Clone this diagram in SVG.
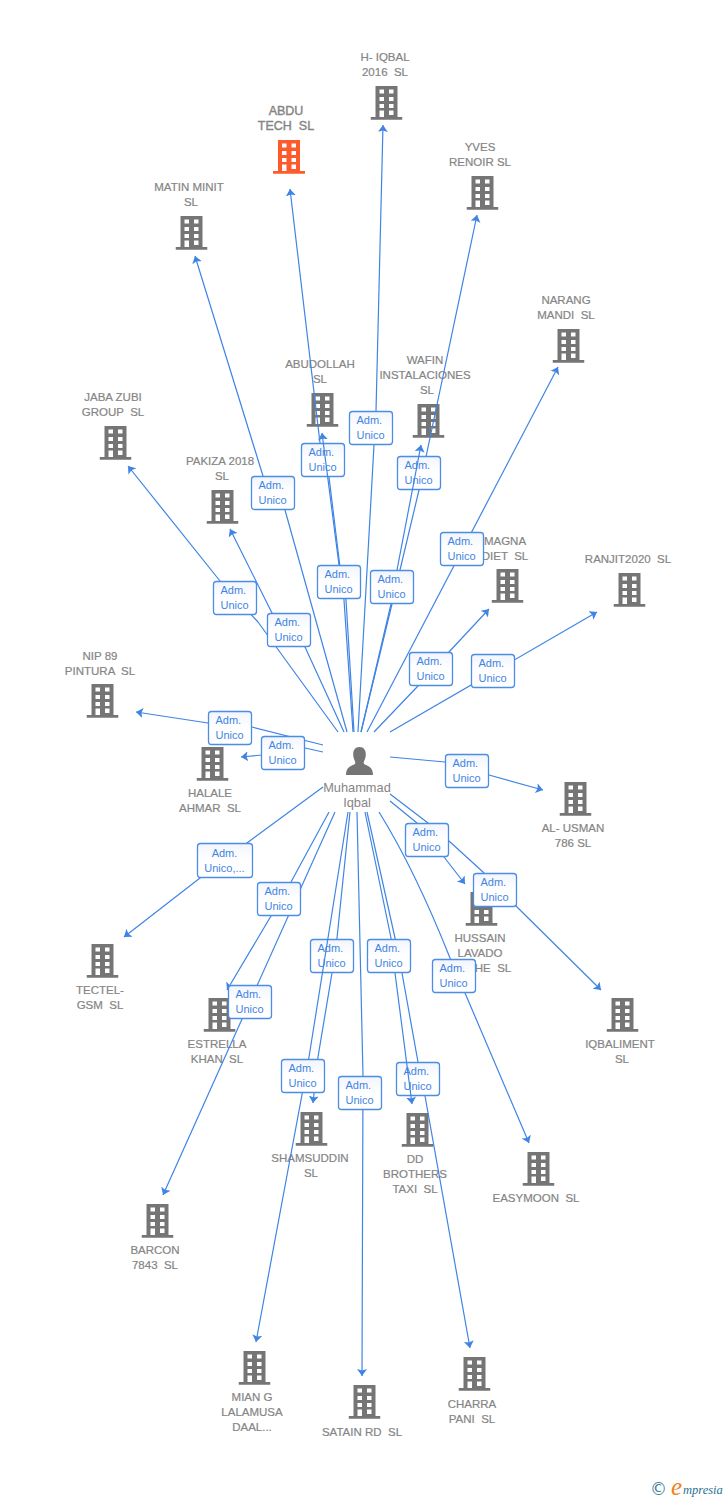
<svg xmlns="http://www.w3.org/2000/svg" width="728" height="1500" viewBox="0 0 728 1500">
<style>
.c{fill:none;stroke:#3f84e4;stroke-width:1.2;stroke-linejoin:round;marker-end:url(#a)}
.b{fill:url(#g);stroke:#4a8ce6;stroke-width:1.3}
.t{font:11px "Liberation Sans",Arial,sans-serif;fill:#3f84e4}
.n{font:11.5px "Liberation Sans",Arial,sans-serif;fill:#858585;text-anchor:middle;stroke:#858585;stroke-width:.2;white-space:pre}
.i{fill:#757575}
</style>
<defs>
<linearGradient id="g" x1="0" y1="0" x2="0" y2="1"><stop offset="0" stop-color="#f1f5fb"/><stop offset=".5" stop-color="#fff"/></linearGradient>
<marker id="a" markerUnits="userSpaceOnUse" markerWidth="10" markerHeight="12" refX="7" refY="5" orient="auto"><path d="M0 0L7 5L0 10L1.500 5Z" fill="#3f84e4"/></marker>
<symbol id="bld" viewBox="0 0 32 34" width="32" height="34"><path fill-rule="evenodd" d="M5 0H27V31H32V33.800H0V31H5ZM9 3.500V7.500H13.500V3.500ZM18.500 3.500V7.500H23V3.500ZM9 11V15H13.500V11ZM18.500 11V15H23V11ZM9 18V22H13.500V18ZM18.500 18V22H23V18ZM9 24.500V31H13.500V24.500ZM18.500 24.500V29H23V24.500Z"/></symbol>
</defs>
<g id="n1"><use href="#bld" x="370.500" y="86" class="i"/><text class="n"><tspan x="385" y="61">H- IQBAL</tspan><tspan x="385" y="76">2016  SL</tspan></text></g>
<g id="n2"><use href="#bld" x="273" y="140" fill="#ff5a2b"/><text class="n" style="font-size:12.5px;stroke-width:.4"><tspan x="286" y="115">ABDU</tspan><tspan x="286" y="130">TECH  SL</tspan></text></g>
<g id="n3"><use href="#bld" x="466.500" y="176" class="i"/><text class="n"><tspan x="480" y="151">YVES</tspan><tspan x="480" y="166">RENOIR SL</tspan></text></g>
<g id="n4"><use href="#bld" x="175.500" y="216" class="i"/><text class="n"><tspan x="189" y="191">MATIN MINIT</tspan><tspan x="191" y="206">SL</tspan></text></g>
<g id="n5"><use href="#bld" x="552.500" y="329" class="i"/><text class="n"><tspan x="566" y="304">NARANG</tspan><tspan x="566" y="319">MANDI  SL</tspan></text></g>
<g id="n6"><use href="#bld" x="306.500" y="393" class="i"/><text class="n"><tspan x="320" y="368">ABUDOLLAH</tspan><tspan x="320" y="383">SL</tspan></text></g>
<g id="n7"><use href="#bld" x="412.500" y="404" class="i"/><text class="n"><tspan x="425" y="364">WAFIN</tspan><tspan x="425" y="379">INSTALACIONES</tspan><tspan x="427" y="394">SL</tspan></text></g>
<g id="n8"><use href="#bld" x="99.500" y="426" class="i"/><text class="n"><tspan x="113" y="401">JABA ZUBI</tspan><tspan x="113" y="416">GROUP  SL</tspan></text></g>
<g id="n9"><use href="#bld" x="206.500" y="490" class="i"/><text class="n"><tspan x="220" y="465">PAKIZA 2018</tspan><tspan x="222" y="480">SL</tspan></text></g>
<g id="n10"><use href="#bld" x="491.500" y="569" class="i"/><text class="n"><tspan x="505" y="545">MAGNA</tspan><tspan x="505" y="560">DIET  SL</tspan></text></g>
<g id="n11"><use href="#bld" x="613.500" y="573" class="i"/><text class="n"><tspan x="628" y="563">RANJIT2020  SL</tspan></text></g>
<g id="n12"><use href="#bld" x="86.500" y="684" class="i"/><text class="n"><tspan x="100" y="660">NIP 89</tspan><tspan x="100" y="675">PINTURA  SL</tspan></text></g>
<g id="n13"><use href="#bld" x="196.500" y="747" class="i"/><text class="n"><tspan x="210" y="797">HALALE</tspan><tspan x="210" y="812">AHMAR  SL</tspan></text></g>
<g id="n14"><use href="#bld" x="559.500" y="782" class="i"/><text class="n"><tspan x="573" y="832">AL- USMAN</tspan><tspan x="573" y="847">786 SL</tspan></text></g>
<g id="n15"><use href="#bld" x="465.500" y="892" class="i"/><text class="n"><tspan x="480" y="942">HUSSAIN</tspan><tspan x="480" y="957">LAVADO</tspan><tspan x="493" y="972">HE  SL</tspan></text></g>
<g id="n16"><use href="#bld" x="86.500" y="944" class="i"/><text class="n"><tspan x="100" y="994">TECTEL-</tspan><tspan x="100" y="1009">GSM  SL</tspan></text></g>
<g id="n17"><use href="#bld" x="606.500" y="998" class="i"/><text class="n"><tspan x="620" y="1048">IQBALIMENT</tspan><tspan x="622" y="1063">SL</tspan></text></g>
<g id="n18"><use href="#bld" x="203.500" y="998" class="i"/><text class="n"><tspan x="217" y="1048">ESTRELLA</tspan><tspan x="217" y="1063">KHAN  SL</tspan></text></g>
<g id="n19"><use href="#bld" x="295.500" y="1112" class="i"/><text class="n"><tspan x="310" y="1162">SHAMSUDDIN</tspan><tspan x="311" y="1177">SL</tspan></text></g>
<g id="n20"><use href="#bld" x="401.500" y="1113" class="i"/><text class="n"><tspan x="415" y="1163">DD</tspan><tspan x="415" y="1178">BROTHERS</tspan><tspan x="415" y="1193">TAXI  SL</tspan></text></g>
<g id="n21"><use href="#bld" x="522.500" y="1152" class="i"/><text class="n"><tspan x="536" y="1202">EASYMOON  SL</tspan></text></g>
<g id="n22"><use href="#bld" x="141.500" y="1204" class="i"/><text class="n"><tspan x="155" y="1254">BARCON</tspan><tspan x="155" y="1269">7843  SL</tspan></text></g>
<g id="n23"><use href="#bld" x="238.500" y="1351" class="i"/><text class="n"><tspan x="252" y="1401">MIAN G</tspan><tspan x="252" y="1416">LALAMUSA</tspan><tspan x="252" y="1431">DAAL...</tspan></text></g>
<g id="n24"><use href="#bld" x="348.500" y="1385" class="i"/><text class="n"><tspan x="362" y="1436">SATAIN RD  SL</tspan></text></g>
<g id="n25"><use href="#bld" x="458.500" y="1357" class="i"/><text class="n"><tspan x="472" y="1408">CHARRA</tspan><tspan x="472" y="1423">PANI  SL</tspan></text></g>
<g id="person">
<path d="M346 775C346 767 351 766 355 764C356 762 354 760 353.500 757C352.500 752 354 747 359.500 747C365 747 366.500 752 365.500 757C365 760 363 762 364 764C368 766 373 767 373 775Z" fill="#757575"/>
<text style="font:12.800px 'Liberation Sans',Arial,sans-serif;fill:#858585;text-anchor:middle"><tspan x="357" y="792">Muhammad</tspan><tspan x="357" y="807">Iqbal</tspan></text>
</g>
<g id="connectors">
<path class="c" d="M358 732L374 445L376 411L383 125"/>
<path class="c" d="M353 732L344 600L329 477L320 443L290 189"/>
<path class="c" d="M361 732L392 604L400 570L419 490L477 215"/>
<path class="c" d="M367 732L558 367"/>
<path class="c" d="M374 732L417 687L449 652L489 609"/>
<path class="c" d="M390 732L597 612"/>
<path class="c" d="M347 732L285 510L263 476L195 256"/>
<path class="c" d="M344 732L305 647L272 613L230 529"/>
<path class="c" d="M338 732L258 622L220 581L128 466"/>
<path class="c" d="M323 745L252 727L208 723L136 712"/>
<path class="c" d="M323 752L305 748L262 755L241 757"/>
<path class="c" d="M390 757L445 762L489 775L543 790"/>
<path class="c" d="M390 801L417 823L444 857L465 884"/>
<path class="c" d="M390 794L428 823L449 841L483 872L517 907L601 990"/>
<path class="c" d="M379 812Q415 870 450 958L465 993L529 1143"/>
<path class="c" d="M367 812L395 938L402 973L418 1062L425 1096L470 1348"/>
<path class="c" d="M357 812L363 1076L362 1376"/>
<path class="c" d="M350 812L337 938L332 973L318 1057L313 1103"/>
<path class="c" d="M329 812L291 882L271 916L227 990"/>
<path class="c" d="M335 812L163 1195"/>
<path class="c" d="M323 787L247 843L200 878L124 937"/>
</g>
<g id="labels-under">
<g transform="translate(301 443)"><rect class="b" x=".5" y=".5" width="43" height="33" rx="3"/><text class="t"><tspan x="7.500" y="13">Adm.</tspan><tspan x="7.500" y="28">Unico</tspan></text></g>
<g transform="translate(397 456)"><rect class="b" x=".5" y=".5" width="43" height="33" rx="3"/><text class="t"><tspan x="7.500" y="13">Adm.</tspan><tspan x="7.500" y="28">Unico</tspan></text></g>
<g transform="translate(310 939)"><rect class="b" x=".5" y=".5" width="43" height="33" rx="3"/><text class="t"><tspan x="7.500" y="13">Adm.</tspan><tspan x="7.500" y="28">Unico</tspan></text></g>
<g transform="translate(396 1062)"><rect class="b" x=".5" y=".5" width="43" height="33" rx="3"/><text class="t"><tspan x="7.500" y="13">Adm.</tspan><tspan x="7.500" y="28">Unico</tspan></text></g>
</g>
<g id="connectors-over">
<path class="c" d="M354 732L346 600L339 565L322 433"/>
<path class="c" d="M361 732L391 604L397 570L421 445"/>
<path class="c" d="M348 812L328 938L309 1057L256 1342"/>
<path class="c" d="M365 812L391 938L395 973L412 1104"/>
</g>
<g id="labels">
<g transform="translate(349 411)"><rect class="b" x=".5" y=".5" width="43" height="33" rx="3"/><text class="t"><tspan x="7.500" y="13">Adm.</tspan><tspan x="7.500" y="28">Unico</tspan></text></g>
<g transform="translate(317 565)"><rect class="b" x=".5" y=".5" width="43" height="33" rx="3"/><text class="t"><tspan x="7.500" y="13">Adm.</tspan><tspan x="7.500" y="28">Unico</tspan></text></g>
<g transform="translate(370 570)"><rect class="b" x=".5" y=".5" width="43" height="33" rx="3"/><text class="t"><tspan x="7.500" y="13">Adm.</tspan><tspan x="7.500" y="28">Unico</tspan></text></g>
<g transform="translate(440 532)"><rect class="b" x=".5" y=".5" width="43" height="33" rx="3"/><text class="t"><tspan x="7.500" y="13">Adm.</tspan><tspan x="7.500" y="28">Unico</tspan></text></g>
<g transform="translate(409 652)"><rect class="b" x=".5" y=".5" width="43" height="33" rx="3"/><text class="t"><tspan x="7.500" y="13">Adm.</tspan><tspan x="7.500" y="28">Unico</tspan></text></g>
<g transform="translate(471 654)"><rect class="b" x=".5" y=".5" width="43" height="33" rx="3"/><text class="t"><tspan x="7.500" y="13">Adm.</tspan><tspan x="7.500" y="28">Unico</tspan></text></g>
<g transform="translate(251 476)"><rect class="b" x=".5" y=".5" width="43" height="33" rx="3"/><text class="t"><tspan x="7.500" y="13">Adm.</tspan><tspan x="7.500" y="28">Unico</tspan></text></g>
<g transform="translate(267 613)"><rect class="b" x=".5" y=".5" width="43" height="33" rx="3"/><text class="t"><tspan x="7.500" y="13">Adm.</tspan><tspan x="7.500" y="28">Unico</tspan></text></g>
<g transform="translate(213 581)"><rect class="b" x=".5" y=".5" width="43" height="33" rx="3"/><text class="t"><tspan x="7.500" y="13">Adm.</tspan><tspan x="7.500" y="28">Unico</tspan></text></g>
<g transform="translate(208 711)"><rect class="b" x=".5" y=".5" width="43" height="33" rx="3"/><text class="t"><tspan x="7.500" y="13">Adm.</tspan><tspan x="7.500" y="28">Unico</tspan></text></g>
<g transform="translate(261 736)"><rect class="b" x=".5" y=".5" width="43" height="33" rx="3"/><text class="t"><tspan x="7.500" y="13">Adm.</tspan><tspan x="7.500" y="28">Unico</tspan></text></g>
<g transform="translate(445 754)"><rect class="b" x=".5" y=".5" width="43" height="33" rx="3"/><text class="t"><tspan x="7.500" y="13">Adm.</tspan><tspan x="7.500" y="28">Unico</tspan></text></g>
<g transform="translate(405 823)"><rect class="b" x=".5" y=".5" width="43" height="33" rx="3"/><text class="t"><tspan x="7.500" y="13">Adm.</tspan><tspan x="7.500" y="28">Unico</tspan></text></g>
<g transform="translate(473 873)"><rect class="b" x=".5" y=".5" width="43" height="33" rx="3"/><text class="t"><tspan x="7.500" y="13">Adm.</tspan><tspan x="7.500" y="28">Unico</tspan></text></g>
<g transform="translate(432 959)"><rect class="b" x=".5" y=".5" width="43" height="33" rx="3"/><text class="t"><tspan x="7.500" y="13">Adm.</tspan><tspan x="7.500" y="28">Unico</tspan></text></g>
<g transform="translate(367 939)"><rect class="b" x=".5" y=".5" width="43" height="33" rx="3"/><text class="t"><tspan x="7.500" y="13">Adm.</tspan><tspan x="7.500" y="28">Unico</tspan></text></g>
<g transform="translate(338 1076)"><rect class="b" x=".5" y=".5" width="43" height="33" rx="3"/><text class="t"><tspan x="7.500" y="13">Adm.</tspan><tspan x="7.500" y="28">Unico</tspan></text></g>
<g transform="translate(281 1059)"><rect class="b" x=".5" y=".5" width="43" height="33" rx="3"/><text class="t"><tspan x="7.500" y="13">Adm.</tspan><tspan x="7.500" y="28">Unico</tspan></text></g>
<g transform="translate(257 882)"><rect class="b" x=".5" y=".5" width="43" height="33" rx="3"/><text class="t"><tspan x="7.500" y="13">Adm.</tspan><tspan x="7.500" y="28">Unico</tspan></text></g>
<g transform="translate(228 985)"><rect class="b" x=".5" y=".5" width="43" height="33" rx="3"/><text class="t"><tspan x="7.500" y="13">Adm.</tspan><tspan x="7.500" y="28">Unico</tspan></text></g>
<g transform="translate(197 843)"><rect class="b" x=".5" y=".5" width="55" height="34" rx="3"/><text class="t" text-anchor="middle"><tspan x="27.500" y="14">Adm.</tspan><tspan x="27.500" y="29">Unico,...</tspan></text></g>
</g>
<g id="logo">
<text x="650" y="1495" style="font:17px 'DejaVu Sans',sans-serif;fill:#3f7d9c">©</text>
<text x="671" y="1495" style="font:italic 25px 'Liberation Serif',serif;fill:#f08020">e</text>
<text x="683" y="1494" style="font:italic 12.500px 'Liberation Serif',serif;fill:#2a6f8f">mpresia</text>
</g>
</svg>
